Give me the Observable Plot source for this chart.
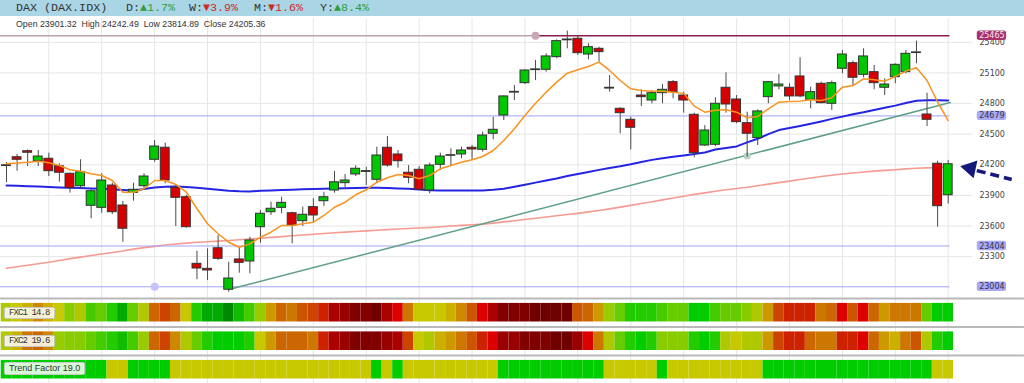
<!DOCTYPE html>
<html><head><meta charset="utf-8">
<script src="https://cdn.jsdelivr.net/npm/d3@7"></script>
<script src="https://cdn.jsdelivr.net/npm/@observablehq/plot@0.6"></script>
<style>
body{margin:0;width:1024px;height:383px;overflow:hidden;background:#fff;position:relative;font-family:"Liberation Sans",Arial,sans-serif;}
#hdr{position:absolute;left:0;top:0;width:1024px;height:16px;background:#a9d5e5;}
#hdr span{position:absolute;top:0;line-height:16px;font-family:"Liberation Mono","Courier New",monospace;font-size:11.7px;color:#333;white-space:pre;}
.up{color:#2f9e3a}.dn{color:#cc2a2a}
#ohlc{position:absolute;left:16px;top:18px;line-height:13px;font-size:8.8px;color:#333;white-space:pre;}
#main{position:absolute;left:0;top:18px;}
#bands{position:absolute;left:0;top:297px;}
.blbl{position:absolute;left:4px;border:1px solid #c8c8c8;border-radius:2px;color:#333;white-space:pre;box-sizing:border-box;}
.mono{font-family:"Liberation Mono","Courier New",monospace;font-size:9px;letter-spacing:-0.9px;background:rgba(252,252,240,0.88);padding:0 4px;line-height:10px;}
.sans{font-family:"Liberation Sans",Arial,sans-serif;font-size:9px;background:rgba(236,255,236,0.9);padding:0 4px;line-height:11px;}
</style></head>
<body>
<div id="hdr">
  <span style="left:16px">DAX (DAX.IDX)</span>
  <span style="left:126px">D:<b class="up" style="font-weight:normal">▲1.7%</b></span>
  <span style="left:189px">W:<b class="dn" style="font-weight:normal">▼3.9%</b></span>
  <span style="left:254px">M:<b class="dn" style="font-weight:normal">▼1.6%</b></span>
  <span style="left:320px">Y:<b class="up" style="font-weight:normal">▲8.4%</b></span>
</div>
<div id="main"></div>
<div id="bands"></div>
<div id="ohlc"></div>
<div class="blbl mono" style="top:307px;">FXC1 14.8</div>
<div class="blbl mono" style="top:335px;">FXC2 19.6</div>
<div class="blbl sans" style="top:362px;">Trend Factor 19.0</div>
<script>
// ---------- data ----------
const opens = [24195,24274,24333,24235,24259,24186,24112,23990,23798,23778,
 23997,23801,23925,23990,24249,24367,23975,23882,23229,23180,
 23382,22975,23272,23252,23588,23735,23778,23725,23647,23785,
 23843,23948,24020,24105,24130,24053,24367,24301,24122,24151,
 23948,24200,24288,24301,24367,24347,24504,24683,24908,25000,
 25128,25131,25255,25420,25435,25281,25337,24947,24749,24641,
 24879,24830,24902,25010,24879,24690,24389,24396,24955,24840,
 24608,24461,24863,24968,24955,25066,24837,24994,24798,25141,
 25196,25082,25108,24955,25059,25108,25295,24693,24210,23901.32];
const highs = [24222,24301,24347,24340,24314,24210,24118,24249,23955,24112,
 24020,23840,24020,24112,24438,24412,23997,23899,23353,23376,
 23507,23245,23392,23490,23752,23833,23882,23735,23785,23867,
 23931,24134,24105,24190,24176,24373,24477,24340,24193,24183,
 24216,24314,24357,24373,24389,24520,24667,24875,24977,25131,
 25223,25288,25425,25510,25458,25386,25353,25075,24759,24667,
 24935,24928,24987,25026,24912,24706,24585,24857,25102,24879,
 24716,24739,25015,25085,24994,25249,24961,25010,25020,25320,
 25216,25337,25173,25043,25190,25320,25412,24902,24235,24242.49];
const lows = [24026,24137,24183,24183,24085,24029,23922,23965,23671,23725,
 23713,23441,23843,23955,24225,24014,23595,23580,23073,23066,
 23262,22951,23137,23131,23431,23703,23720,23425,23595,23627,
 23791,23922,23975,24085,23997,24014,24176,24167,24014,23948,
 23916,24144,24193,24259,24249,24324,24445,24634,24830,24987,
 25026,25108,25239,25337,25272,25229,25206,24912,24504,24347,
 24772,24798,24798,24847,24706,24269,24379,24379,24706,24602,
 24275,24389,24798,24935,24830,24857,24749,24798,24732,25092,
 24977,25053,24935,24879,24994,25092,25190,24575,23588,23814.89];
const closes = [24188,24249,24318,24281,24137,24122,23971,24127,23941,24046,
 23735,23573,23955,24085,24379,24046,23876,23588,23183,23164,
 23278,23085,23239,23458,23720,23769,23827,23605,23710,23703,
 23882,24029,24046,24161,24138,24291,24193,24235,24073,23955,
 24193,24281,24294,24340,24350,24487,24543,24870,24915,25124,
 25135,25262,25412,25428,25294,25353,25304,24955,24706,24563,
 24863,24902,24935,24912,24830,24314,24536,24798,24791,24618,
 24504,24723,25010,24987,24870,24870,24912,24804,25000,25281,
 25053,25262,25000,24987,25180,25288,25302,24641,23794,24205.36];
// short moving average (orange)
const maFast = [24210,24218,24225,24235,24220,24193,24151,24137,24112,24095,
 24046,23931,23931,23965,24046,24046,24007,23931,23769,23622,
 23524,23441,23392,23425,23490,23539,23605,23605,23622,23637,
 23703,23784,23833,23906,23955,24029,24073,24105,24095,24063,
 24095,24161,24193,24225,24249,24281,24340,24438,24553,24683,
 24804,24912,25010,25098,25131,25164,25206,25125,25026,24945,
 24928,24922,24922,24912,24900,24775,24716,24735,24739,24716,
 24661,24674,24749,24814,24821,24824,24837,24830,24857,24961,
 24977,25043,25033,25020,25066,25118,25151,25026,24814,24634];
// medium moving average (blue)
const maMid = [23997,23994,23990,23986,23982,23978,23975,23972,23968,23965,
 23960,23954,23948,23962,23978,23985,23987,23982,23975,23965,
 23955,23946,23940,23938,23945,23948,23952,23956,23960,23963,
 23965,23967,23970,23973,23975,23975,23972,23968,23965,23958,
 23950,23948,23948,23948,23948,23948,23955,23965,23985,24005,
 24025,24046,24065,24090,24110,24130,24150,24168,24185,24205,
 24228,24248,24265,24278,24292,24305,24320,24350,24365,24380,
 24420,24455,24500,24540,24560,24580,24602,24625,24650,24672,
 24695,24715,24738,24760,24780,24805,24828,24832,24832,24830];
// long moving average (salmon)
const maSlow = [23185,23200,23215,23230,23245,23262,23280,23295,23310,23325,
 23340,23355,23373,23388,23400,23413,23423,23432,23440,23446,
 23452,23458,23465,23472,23480,23488,23496,23504,23512,23519,
 23526,23533,23540,23546,23552,23558,23564,23570,23575,23580,
 23585,23592,23600,23606,23612,23618,23628,23640,23652,23664,
 23676,23688,23700,23712,23724,23738,23752,23768,23785,23802,
 23820,23838,23856,23874,23892,23910,23925,23940,23955,23968,
 23980,23995,24010,24025,24040,24055,24070,24085,24098,24110,
 24120,24130,24138,24145,24152,24160,24166,24170,24173,24176];
const fxc1 = [14,13,12,10,12,13,16,14,18,17, 19,22,17,14,8,6,8,13,19,22,
 22,23,21,18,15,11,8,9,7,6, 5,3,2,1,1,0,3,4,9,13, 13,13,12,10,7,4,3,1,1,1,
 0,0,0,0,7,8,11,15,17,19, 19,19,18,17,17,20,20,18,17,17, 16,14,11,6,5,5,5,9,8,4,
 7,4,8,11,9,9,9,17,20,20];
const fxc2 = [14,12,9,8,10,15,16,16,17,18, 19,21,18,15,8,6,10,14,17,19,
 20,20,20,19,13,11,8,8,8,9, 5,3,2,1,1,1,2,3,6,13, 14,12,11,9,7,5,4,2,2,1,
 1,1,0,0,2,4,9,14,17,19, 20,19,16,16,16,19,20,19,14,13, 14,14,11,6,5,5,8,9,9,5,
 5,4,8,11,12,9,7,14,19,20];
const trendUp = [1,1,1,1,1,1,1,1,1,1, 0,0,1,1,1,1,0,0,0,0, 0,0,0,0,0,0,0,0,0,0,
 0,0,0,0,0,1,0,1,0,0, 0,0,0,0,0,0,0,1,1,1, 1,1,1,1,1,1,1,0,0,0,
 0,0,1,0,0,0,0,0,0,0, 0,0,1,1,1,1,1,1,1,1, 1,1,1,1,1,1,1,1,0,0];
const yTicks = [23300,23600,23900,24200,24500,24800,25100,25400];
const resistance = 25465, resistanceFrom = 50;
const levels = [24679, 23404, 23004];
const supportFrom = 14;
const trendPoints = [{i:21, p:22977}, {i:89.2, p:24810}];
const trendMarks = [{i:70, p:24285}];
const arrowHead = {i:91.1, p:24165};
const arrowTail = {i1:91.7, p1:24143, i2:95.0, p2:24056};

// ---------- layout helpers ----------
const N = opens.length;
const idx = d3.range(N);
const xDomain = [0, N - 1], xRange = [6, 947.7];
const xStart = -0.6, xEnd = 89.16, gridEnd = 91.3;
const labelMid = 93.13, labelL = 91.75, labelR = 94.52, boxHalf = 46;
const gridIdx = idx.filter(i => i % 5 === 4);
const candles = idx.map(i => ({i, open:opens[i], high:highs[i], low:lows[i], close:closes[i]}));

document.getElementById("ohlc").textContent =
  `Open ${opens[N-1].toFixed(2)}  High ${highs[N-1].toFixed(2)}  Low ${lows[N-1].toFixed(2)}  Close ${closes[N-1].toFixed(2)}`;

const lavender = "#a3a3f3";
const boxLabels = [
  {v: resistance, fill:"#a8336c", tf:"#fbe6ef"},
  ...levels.map(v => ({v, fill:"#a9a9f6", tf:"#33334a"}))
];

const main = Plot.plot({
  width: 1024, height: 279,
  marginLeft: 0, marginRight: 74, marginTop: 0, marginBottom: 0,
  x: {domain: xDomain, range: xRange, axis: null},
  y: {domain: [22899, 25634]},
  color: {type: "identity"},
  style: {background: "transparent", overflow: "visible", fontFamily: "DejaVu Sans", fontSize: "8px"},
  marks: [
    Plot.ruleX(gridIdx, {x: d => d, stroke: "#e6e6e6"}),
    Plot.ruleY(yTicks, {y: d => d, x1: () => xStart, x2: () => gridEnd, stroke: "#e6e6e6"}),
    Plot.axisY(yTicks, {anchor: "right", tickSize: 0, tickPadding: 29, tickFormat: d => String(d), color: "#444", label: null}),
    Plot.line(idx, {x: d => d, y: d => maSlow[d], stroke: "#f59b92", strokeWidth: 1.6}),
    Plot.ruleY(levels, {y: d => d, x1: () => xStart, x2: () => xEnd, stroke: lavender, strokeWidth: 1}),
    Plot.ruleY([resistance], {y: d => d, x1: () => xStart, x2: () => resistanceFrom, stroke: "#bba3aa", strokeWidth: 1.4}),
    Plot.ruleY([resistance], {y: d => d, x1: () => resistanceFrom, x2: () => xEnd, stroke: "#8d1b4e", strokeWidth: 1.5}),
    Plot.dot([{i: resistanceFrom, p: resistance}], {x: "i", y: "p", r: 4, fill: "#c7a9b4"}),
    Plot.dot([{i: supportFrom, p: levels[2]}], {x: "i", y: "p", r: 4, fill: "#c4c4fb"}),
    Plot.line(trendPoints, {x: "i", y: "p", stroke: "#5f9f86", strokeWidth: 1.5}),
    Plot.dot(trendMarks, {x: "i", y: "p", r: 3.5, fill: "#b9d3c6"}),
    Plot.line(idx, {x: d => d, y: d => maMid[d], stroke: "#2424e4", strokeWidth: 2}),
    Plot.ruleX(candles, {x: "i", y1: "low", y2: "high", stroke: "#4a4a4a", strokeWidth: 1}),
    Plot.rect(candles, {x1: d => d.i - 0.42, x2: d => d.i + 0.42, y1: "open", y2: "close",
      fill: d => d.close >= d.open ? "#00c800" : "#d60000", stroke: "#333", strokeWidth: 1}),
    Plot.line(idx, {x: d => d, y: d => maFast[d], stroke: "#f7931e", strokeWidth: 1.5}),
    Plot.rect(boxLabels, {x1: () => labelL, x2: () => labelR, y1: d => d.v - boxHalf, y2: d => d.v + boxHalf, fill: "fill", rx: 2.5}),
    Plot.text(boxLabels, {x: () => labelMid, y: "v", text: d => String(d.v), fill: "tf", fontSize: 8}),
    Plot.link([arrowTail], {x1: "i1", y1: "p1", x2: "i2", y2: "p2", stroke: "#15197a", strokeWidth: 3.5, strokeDasharray: "9,5"}),
    Plot.dot([arrowHead], {x: "i", y: "p", symbol: "triangle", r: 6.7, fill: "#15197a", rotate: -78})
  ]
});
document.getElementById("main").appendChild(main);

// ---------- indicator bands ----------
const rows = [
  {name: "FXC1", lv: fxc1},
  {name: "FXC2", lv: fxc2},
  {name: "Trend Factor", lv: trendUp.map(u => u ? 20 : 13)}
];
const cells = [];
rows.forEach((r, k) => idx.forEach(i => cells.push({i, row: k, level: r.lv[i]})));
const palette = ["#6e0000","#800000","#990000","#aa0000","#dd0000","#cc2200","#cc4400","#cc5500",
  "#cc6600","#cc7700","#cc8800","#cc9900","#ccb000","#c8c800","#b0c800","#99cc00",
  "#88cc00","#66cc00","#44cc00","#22cc00","#00cc00","#11bb00","#00aa00","#008800"];

const bands = Plot.plot({
  width: 1024, height: 86,
  marginLeft: 0, marginRight: 74, marginTop: 0, marginBottom: 0,
  x: {domain: xDomain, range: xRange, axis: null},
  y: {domain: [-0.533, 2.484], range: [0, 86], axis: null},
  color: {type: "ordinal", domain: d3.range(palette.length), range: palette},
  style: {background: "transparent", overflow: "visible"},
  marks: [
    Plot.ruleX(gridIdx, {x: d => d, stroke: "#e6e6e6"}),
    Plot.ruleY([-0.5, 0.5, 1.5], {y: d => d, x1: () => -1, x2: () => 96.2, stroke: "#b9b9b9", strokeWidth: 2}),
    Plot.rect(cells, {x1: d => d.i - 0.5, x2: d => d.i + 0.5, y1: d => d.row - 0.326, y2: d => d.row + 0.326, fill: "level"})
  ]
});
document.getElementById("bands").appendChild(bands);
</script>
</body></html>
